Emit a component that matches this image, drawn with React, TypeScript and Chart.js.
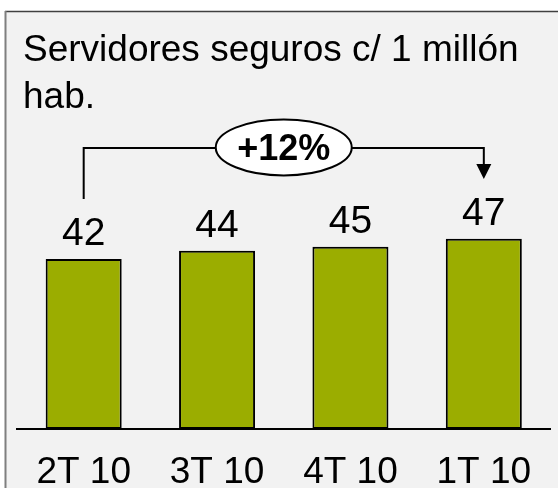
import React, { useEffect, useRef } from "react";
import { Chart, registerables } from "chart.js";

Chart.register(...registerables);

const categories = ["2T 10", "3T 10", "4T 10", "1T 10"];
const values = [42, 44, 45, 47];
const titleLines = ["Servidores seguros c/ 1 millón", "hab."];
const growthLabel = "+12%";

const FONT = '"Liberation Sans", Arial, Helvetica, sans-serif';

const W = 558;
const H = 520;

const framePlugin = {
  id: "frame",
  beforeDraw(chart: any) {
    const ctx = chart.ctx;
    ctx.save();
    ctx.fillStyle = "#ffffff";
    ctx.fillRect(0, 0, chart.width, chart.height);
    ctx.fillStyle = "#f2f2f2";
    ctx.fillRect(5, 11, chart.width, chart.height);
    ctx.strokeStyle = "#404040";
    ctx.lineWidth = 1.5;
    ctx.beginPath();
    ctx.moveTo(5, 11.5);
    ctx.lineTo(chart.width, 11.5);
    ctx.stroke();
    ctx.strokeStyle = "#7f7f7f";
    ctx.lineWidth = 2;
    ctx.beginPath();
    ctx.moveTo(5.5, 11);
    ctx.lineTo(5.5, chart.height);
    ctx.stroke();
    // title
    ctx.fillStyle = "#000000";
    ctx.font = `37px ${FONT}`;
    ctx.textAlign = "left";
    ctx.textBaseline = "alphabetic";
    ctx.fillText(titleLines[0], 23, 61);
    ctx.fillText(titleLines[1], 23, 108);
    ctx.restore();
  },
};

const labelsPlugin = {
  id: "valueLabels",
  afterDatasetsDraw(chart: any) {
    const ctx = chart.ctx;
    const meta = chart.getDatasetMeta(0);
    const yScale = chart.scales.y;
    ctx.save();
    ctx.fillStyle = "#000000";
    ctx.font = `39px ${FONT}`;
    ctx.textAlign = "center";
    ctx.textBaseline = "alphabetic";
    meta.data.forEach((bar: any, i: number) => {
      ctx.fillText(String(values[i]), bar.x, bar.y - 14);
    });

    // growth bracket
    const first = meta.data[0];
    const last = meta.data[meta.data.length - 1];
    const level = yScale.getPixelForValue(69.4);
    const startBottom = yScale.getPixelForValue(values[0] + 14.8);
    const tip = yScale.getPixelForValue(61.7);
    const headTop = tip - 15;
    const x0 = first.x;
    const x1 = last.x;
    ctx.strokeStyle = "#000000";
    ctx.lineWidth = 2;
    ctx.beginPath();
    ctx.moveTo(x0, startBottom);
    ctx.lineTo(x0, level);
    ctx.lineTo(x1, level);
    ctx.lineTo(x1, headTop);
    ctx.stroke();
    ctx.fillStyle = "#000000";
    ctx.beginPath();
    ctx.moveTo(x1 - 7.5, headTop);
    ctx.lineTo(x1 + 7.5, headTop);
    ctx.lineTo(x1, tip);
    ctx.closePath();
    ctx.fill();

    const cx = (x0 + x1) / 2;
    const cy = level - 0.5;
    ctx.beginPath();
    ctx.ellipse(cx, cy, 68, 28, 0, 0, Math.PI * 2);
    ctx.fillStyle = "#ffffff";
    ctx.fill();
    ctx.lineWidth = 2;
    ctx.strokeStyle = "#000000";
    ctx.stroke();
    ctx.fillStyle = "#000000";
    ctx.font = `bold 36px ${FONT}`;
    ctx.textAlign = "center";
    ctx.fillText(growthLabel, cx, cy + 13);
    ctx.restore();
  },
};

export default function App() {
  const ref = useRef<HTMLCanvasElement | null>(null);
  useEffect(() => {
    if (!ref.current) return;
    const chart = new Chart(ref.current, {
      type: "bar",
      data: {
        labels: categories,
        datasets: [
          {
            data: values,
            backgroundColor: "#9bad00",
            borderColor: "#000000",
            borderWidth: 2,
            borderSkipped: false,
            categoryPercentage: 1,
            barPercentage: 0.57,
          },
        ],
      },
      options: {
        animation: false,
        responsive: false,
        devicePixelRatio: 1,
        layout: { padding: { top: 105, left: 17, right: 7.5, bottom: 2.6 } },
        plugins: {
          legend: { display: false },
          tooltip: { enabled: false },
          title: { display: false },
        },
        scales: {
          x: {
            grid: { display: false, drawTicks: false },
            border: { display: true, color: "#000000", width: 2 },
            ticks: {
              color: "#000000",
              font: { family: FONT, size: 37, lineHeight: 1.2 },
              padding: 22,
              maxRotation: 0,
              autoSkip: false,
            },
          },
          y: {
            display: false,
            min: 0,
            max: 80,
          },
        },
      },
      plugins: [framePlugin, labelsPlugin],
    });
    return () => chart.destroy();
  }, []);
  return (
    <div
      style={{
        position: "fixed",
        left: 0,
        top: 0,
        width: W,
        height: 488,
        overflow: "hidden",
        background: "#ffffff",
      }}
    >
      <canvas ref={ref} width={W} height={H} style={{ display: "block" }} />
    </div>
  );
}
